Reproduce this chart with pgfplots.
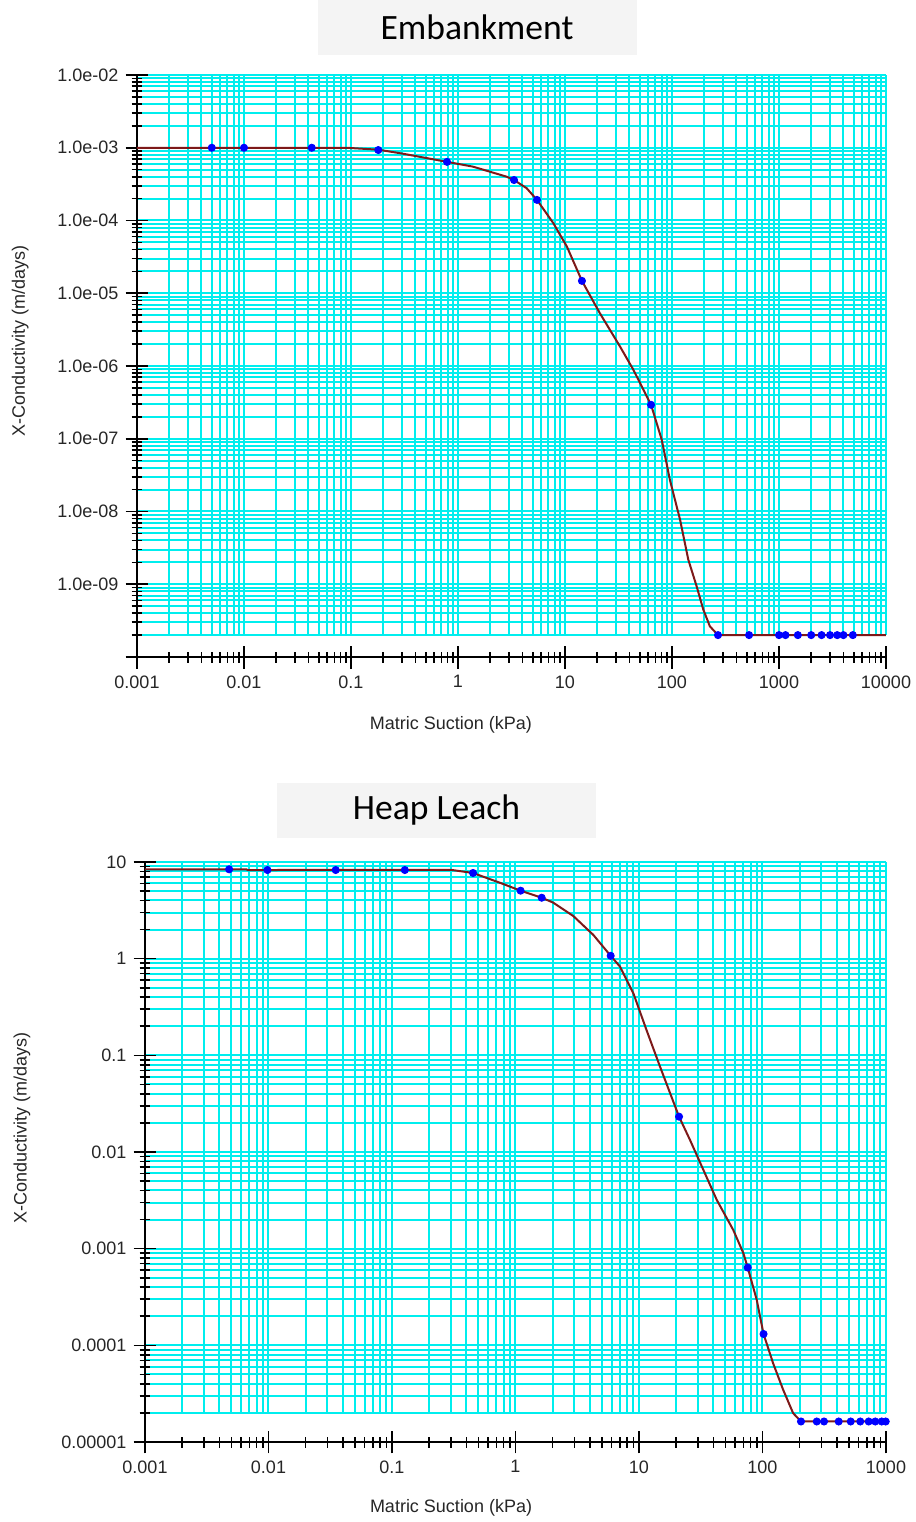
\documentclass[border=0pt]{standalone}
\usepackage{fontspec}
\setmainfont{Liberation Sans}
\newfontfamily\titlefont{Carlito}
\usepackage{pgfplots}
\pgfplotsset{compat=1.18}

\definecolor{gridc}{RGB}{0,238,238}
\definecolor{linec}{RGB}{125,25,25}
\definecolor{titlebg}{RGB}{244,244,244}

\pgfplotstableread{
x y
0.001 1.0e-3
0.09 1.0e-3
0.18 9.4e-4
0.29 8.4e-4
0.79 6.4e-4
1.38 5.5e-4
2.85 4.0e-4
3.34 3.6e-4
4.38 2.78e-4
5.47 1.92e-4
7.78 9.2e-5
10.4 4.4e-5
14.4 1.48e-5
21.2 5.3e-6
32.7 1.85e-6
43.5 8.9e-7
63.7 2.93e-7
80.2 9.7e-8
95.7 2.7e-8
119 7.7e-9
142 2.18e-9
170 9.35e-10
196 4.5e-10
226 2.64e-10
269 2.0e-10
10000 2.0e-10
}\embcurve

\pgfplotstableread{
x y
0.005 1.0e-3
0.01 1.0e-3
0.043 1.0e-3
0.18 9.3e-4
0.79 6.4e-4
3.34 3.6e-4
5.47 1.92e-4
14.4 1.48e-5
63.7 2.93e-7
269 2.0e-10
525 2.0e-10
1000 2.0e-10
1150 2.0e-10
1500 2.0e-10
2000 2.0e-10
2500 2.0e-10
3000 2.0e-10
3500 2.0e-10
4000 2.0e-10
4900 2.0e-10
}\embpts

\pgfplotstableread{
x y
0.001 8.4
0.0066 8.4
0.0068 8.26
0.3 8.3
0.453 7.7
0.748 6.1
1.10 5.05
1.63 4.27
2.02 3.8
2.94 2.76
4.27 1.76
5.90 1.07
7.02 0.827
9.0 0.439
11.5 0.183
14.8 0.0764
21.1 0.0232
25.9 0.0133
42.6 3.2e-3
58.0 1.56e-3
70.0 8.98e-4
75.9 6.38e-4
89.8 2.96e-4
102 1.31e-4
122 6.5e-5
147 3.47e-5
177 1.99e-5
205 1.63e-5
1000 1.63e-5
}\heapcurve

\pgfplotstableread{
x y
0.0048 8.4
0.0098 8.26
0.035 8.26
0.127 8.26
0.453 7.7
1.10 5.05
1.63 4.27
5.90 1.07
21.1 0.0232
75.9 6.38e-4
102 1.31e-4
205 1.63e-5
275 1.63e-5
315 1.63e-5
414 1.63e-5
518 1.63e-5
619 1.63e-5
724 1.63e-5
819 1.63e-5
923 1.63e-5
995 1.63e-5
}\heappts

% grid positions: every 1..9 step of each decade
\def\gxa{0.001,0.002,0.003,0.004,0.005,0.006,0.007,0.008,0.009,0.01,0.02,0.03,0.04,0.05,0.06,0.07,0.08,0.09,0.1,0.2,0.3,0.4,0.5,0.6,0.7,0.8,0.9,1,2,3,4,5,6,7,8,9,10,20,30,40,50,60,70,80,90,100,200,300,400,500,600,700,800,900,1000}
\def\gya{2e-10,3e-10,4e-10,5e-10,6e-10,7e-10,8e-10,9e-10,1e-9,2e-9,3e-9,4e-9,5e-9,6e-9,7e-9,8e-9,9e-9,1e-8,2e-8,3e-8,4e-8,5e-8,6e-8,7e-8,8e-8,9e-8,1e-7,2e-7,3e-7,4e-7,5e-7,6e-7,7e-7,8e-7,9e-7,1e-6,2e-6,3e-6,4e-6,5e-6,6e-6,7e-6,8e-6,9e-6,1e-5,2e-5,3e-5,4e-5,5e-5,6e-5,7e-5,8e-5,9e-5,1e-4,2e-4,3e-4,4e-4,5e-4,6e-4,7e-4,8e-4,9e-4,1e-3,2e-3,3e-3,4e-3,5e-3,6e-3,7e-3,8e-3,9e-3,1e-2}
\def\gyb{2e-5,3e-5,4e-5,5e-5,6e-5,7e-5,8e-5,9e-5,1e-4,2e-4,3e-4,4e-4,5e-4,6e-4,7e-4,8e-4,9e-4,1e-3,2e-3,3e-3,4e-3,5e-3,6e-3,7e-3,8e-3,9e-3,1e-2,2e-2,3e-2,4e-2,5e-2,6e-2,7e-2,8e-2,9e-2,0.1,0.2,0.3,0.4,0.5,0.6,0.7,0.8,0.9,1,2,3,4,5,6,7,8,9,10}

\begin{document}
\begin{tikzpicture}
\path[use as bounding box] (0,0) rectangle (458pt,761pt);

% titles
\node[fill=titlebg, minimum width=159.5pt, minimum height=27.5pt, inner sep=0pt,
      font=\titlefont\fontsize{17.8}{20}\selectfont] at (238.5pt,747.25pt) {Embankment};
\node[fill=titlebg, minimum width=159.5pt, minimum height=27.5pt, inner sep=0pt,
      font=\titlefont\fontsize{17.8}{20}\selectfont] at (218.25pt,355.75pt) {Heap Leach};

% Embankment grid (stops at 2e-10)
\begin{axis}[scale only axis, xmode=log, ymode=log,
  at={(68.5pt,723.5pt)}, anchor=north west,
  width=374.5pt, height=280.05pt,
  xmin=0.001, xmax=10000, ymin=2e-10, ymax=1e-2,
  xtick/.expand once=\gxa, extra x ticks={2000,3000,4000,5000,6000,7000,8000,9000,10000},
  ytick/.expand once=\gya,
  minor tick num=0,
  grid=major,
  major grid style={gridc,line width=1pt},
  extra tick style={grid=major, major grid style={gridc,line width=1pt}},
  axis line style={draw=none}, every tick/.style={draw=none},
  major tick length=0pt, minor tick length=0pt,
  xticklabels={}, yticklabels={}, extra x tick labels={},
]
\end{axis}

% Embankment axes and data
\begin{axis}[scale only axis, xmode=log, ymode=log,
  at={(68.5pt,432.5pt)}, anchor=south west,
  width=374.5pt, height=291pt,
  xmin=0.001, xmax=10000, ymin=1e-10, ymax=1e-2,
  axis x line*=bottom, axis y line*=left,
  axis line style={line width=1pt,-},
  tick align=center, major tick length=11.5pt, minor tick length=5.5pt,
  every tick/.style={black,line width=0.8pt},
  tick label style={font=\fontsize{9}{10}\selectfont, text=black!85},
  every axis label/.append style={font=\fontsize{9}{10}\selectfont, text=black!85},
  xtick={0.001,0.01,0.1,1,10,100,1000,10000},
  xticklabels={0.001,0.01,0.1,1,10,100,1000,10000},
  ytick={1e-10,1e-9,1e-8,1e-7,1e-6,1e-5,1e-4,1e-3,1e-2},
  yticklabels={,1.0e-09,1.0e-08,1.0e-07,1.0e-06,1.0e-05,1.0e-04,1.0e-03,1.0e-02},
  xlabel={Matric Suction (kPa)},
  ylabel={X-Conductivity (m/days)},
  xlabel style={at={(axis description cs:0.419,-0.117)}, anchor=center},
  ylabel style={at={(axis description cs:-0.156,0.543)}, anchor=center},
]
\addplot[color=linec, line width=1pt] table[x=x,y=y] {\embcurve};
\addplot[only marks, mark=*, mark size=1.8pt, color=blue] table[x=x,y=y] {\embpts};
\end{axis}

% Heap Leach grid (stops at 2e-5)
\begin{axis}[scale only axis, xmode=log, ymode=log,
  at={(72.5pt,330pt)}, anchor=north west,
  width=370.5pt, height=275.45pt,
  xmin=0.001, xmax=1000, ymin=2e-5, ymax=10,
  xtick/.expand once=\gxa,
  ytick/.expand once=\gyb,
  minor tick num=0,
  grid=major,
  major grid style={gridc,line width=1pt},
  axis line style={draw=none}, every tick/.style={draw=none},
  major tick length=0pt, minor tick length=0pt,
  xticklabels={}, yticklabels={},
]
\end{axis}

% Heap Leach axes and data
\begin{axis}[scale only axis, xmode=log, ymode=log,
  at={(72.5pt,40pt)}, anchor=south west,
  width=370.5pt, height=290pt,
  xmin=0.001, xmax=1000, ymin=1e-5, ymax=10,
  axis x line*=bottom, axis y line*=left,
  axis line style={line width=1pt,-},
  tick align=center, major tick length=11.5pt, minor tick length=5.5pt,
  every tick/.style={black,line width=0.8pt},
  tick label style={font=\fontsize{9}{10}\selectfont, text=black!85},
  every axis label/.append style={font=\fontsize{9}{10}\selectfont, text=black!85},
  xtick={0.001,0.01,0.1,1,10,100,1000},
  xticklabels={0.001,0.01,0.1,1,10,100,1000},
  ytick={1e-5,1e-4,1e-3,1e-2,1e-1,1,10},
  yticklabels={0.00001,0.0001,0.001,0.01,0.1,1,10},
  xlabel={Matric Suction (kPa)},
  ylabel={X-Conductivity (m/days)},
  xlabel style={at={(axis description cs:0.413,-0.114)}, anchor=center},
  ylabel style={at={(axis description cs:-0.166,0.541)}, anchor=center},
]
\addplot[color=linec, line width=1pt] table[x=x,y=y] {\heapcurve};
\addplot[only marks, mark=*, mark size=1.8pt, color=blue] table[x=x,y=y] {\heappts};
\end{axis}
\end{tikzpicture}
\end{document}
